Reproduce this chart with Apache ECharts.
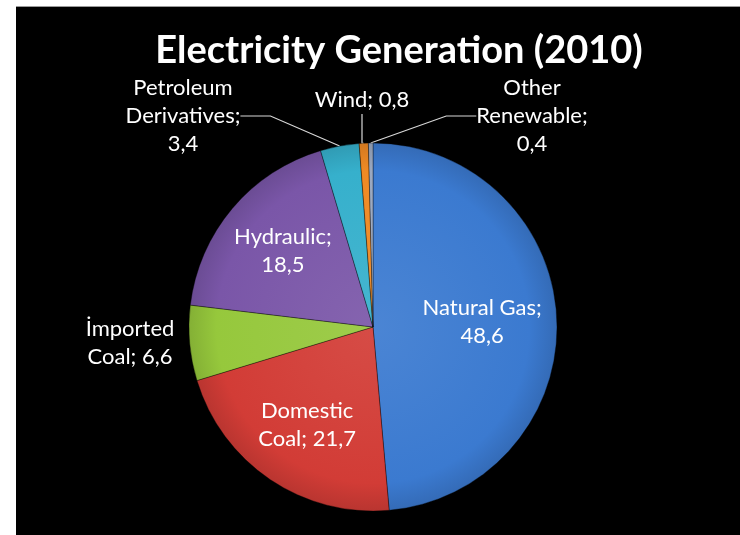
<!DOCTYPE html>
<html>
<head>
<meta charset="utf-8">
<script src="https://cdn.jsdelivr.net/npm/echarts@6/dist/echarts.min.js"></script>
<style>
  html, body { margin: 0; padding: 0; background: #fff; }
  #chart { width: 740px; height: 535px; }
</style>
</head>
<body>
<div id="chart"></div>
<script>
// Electricity generation shares by source, 2010 (%)
const sources = ['Natural Gas', 'Domestic\nCoal', 'İmported\nCoal', 'Hydraulic', 'Petroleum\nDerivatives', 'Wind', 'Other\nRenewable'];
const shares = [48.6, 21.7, 6.6, 18.5, 3.4, 0.8, 0.4];
const sliceColors = ['#3b7ad0', '#d23c36', '#96c83c', '#7a56a8', '#36b0cc', '#f08a24', '#9aa8c0'];

// how each label text is laid out: value on its own line or after the name
const valueOnNewLine = [true, false, false, true, true, false, true];
// small slices get their label outside the pie, placed here (label centre)
const outerLabelPos = {
  2: [130, 343],
  4: [183, 116],
  5: [362, 100],
  6: [532, 116]
};
const pieCenter = [373, 327];
const pieRadius = 184;

function fmt(v) { return String(v).replace('.', ','); }

function shade(hex, f) {
  const n = parseInt(hex.slice(1), 16);
  let r = (n >> 16) & 255, g = (n >> 8) & 255, b = n & 255;
  const mix = f > 0 ? 255 : 0, a = Math.abs(f);
  r = Math.round(r + (mix - r) * a);
  g = Math.round(g + (mix - g) * a);
  b = Math.round(b + (mix - b) * a);
  return 'rgb(' + r + ',' + g + ',' + b + ')';
}

const data = sources.map((name, i) => {
  const outer = outerLabelPos[i] !== undefined;
  return {
    name: name,
    value: shares[i],
    itemStyle: {
      color: {
        type: 'radial', x: pieCenter[0], y: pieCenter[1], r: pieRadius, global: true,
        colorStops: [
          { offset: 0, color: shade(sliceColors[i], 0.08) },
          { offset: 0.85, color: sliceColors[i] },
          { offset: 1, color: shade(sliceColors[i], -0.12) }
        ]
      }
    },
    label: {
      position: outer ? 'outside' : 'inside',
      align: 'center'
    },
    labelLine: { show: outer && i !== 2 }
  };
});

const chart = echarts.init(document.getElementById('chart'), null, { renderer: 'canvas' });

chart.setOption({
  backgroundColor: '#ffffff',
  animation: false,
  graphic: [
    { type: 'rect', shape: { x: 16, y: 7, width: 740, height: 540 }, style: { fill: '#000' }, z: -10 },
    { type: 'rect', shape: { x: 16, y: 6, width: 740, height: 1 }, style: { fill: '#9a9a9a' }, z: -10 }
  ],
  title: {
    text: 'Electricity Generation (2010)',
    left: 394,
    top: 27,
    textAlign: 'center',
    textStyle: {
      color: '#ffffff',
      fontFamily: 'Lato',
      fontWeight: 'bold',
      fontSize: 38
    }
  },
  series: [{
    type: 'pie',
    center: pieCenter,
    radius: pieRadius,
    startAngle: 90,
    clockwise: true,
    data: data,
    itemStyle: { borderColor: 'rgba(0,0,0,0.35)', borderWidth: 1 },
    label: {
      color: '#ffffff',
      fontFamily: 'Lato',
      fontSize: 22,
      lineHeight: 28,
      formatter: p => {
        const i = p.dataIndex;
        return p.name + ';' + (valueOnNewLine[i] ? '\n' : ' ') + fmt(p.value);
      }
    },
    labelLine: {
      show: true,
      smooth: false,
      lineStyle: { color: '#d8d8d8', width: 1.2 }
    },
    labelLayout: params => {
      const i = params.dataIndex;
      if (outerLabelPos[i] !== undefined) {
        return { x: outerLabelPos[i][0], y: outerLabelPos[i][1], align: 'center', verticalAlign: 'middle' };
      }
      // push the inside labels further out from the centre
      const r = params.labelRect;
      const lx = r.x + r.width / 2, ly = r.y + r.height / 2;
      const k = i === 0 ? 0.15 : 0.24;
      return { dx: (lx - pieCenter[0]) * k, dy: (ly - pieCenter[1]) * k };
    }
  }]
});
</script>
</body>
</html>
